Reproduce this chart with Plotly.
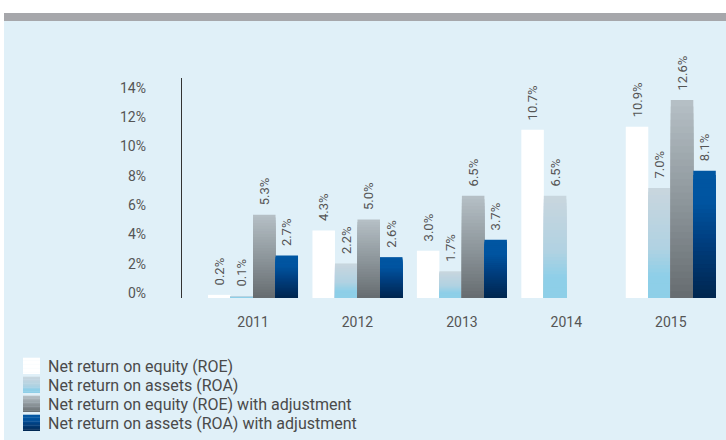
import plotly.graph_objects as go

years = ["2011", "2012", "2013", "2014", "2015"]
roe = [0.2, 4.3, 3.0, 10.7, 10.9]
roa = [0.1, 2.2, 1.7, 6.5, 7.0]
roe_adj = [5.3, 5.0, 6.5, None, 12.6]
roa_adj = [2.7, 2.6, 3.7, None, 8.1]
y_ticks = [0, 2, 4, 6, 8, 10, 12, 14]

names = ["Net return on equity (ROE)", "Net return on assets (ROA)",
         "Net return on equity (ROE) with adjustment",
         "Net return on assets (ROA) with adjustment"]

# gradient stops: (fraction from bottom, colour)
stops = [
    [(0, "#ffffff"), (1, "#ffffff")],
    [(0, "#8ecfe8"), (0.2, "#8ecfe8"), (0.45, "#b0d2e2"), (1, "#c9d6de")],
    [(0, "#666c70"), (0.5, "#8e979c"), (1, "#b6c0c6")],
    [(0, "#00264f"), (0.45, "#003f80"), (0.75, "#0054a0"), (1, "#0056a2")],
]


def hex2rgb(h):
    h = h.lstrip("#")
    return [int(h[i:i + 2], 16) for i in (0, 2, 4)]


def grad(st, t):
    for (t0, c0), (t1, c1) in zip(st, st[1:]):
        if t0 <= t <= t1:
            f = 0 if t1 == t0 else (t - t0) / (t1 - t0)
            a, b = hex2rgb(c0), hex2rgb(c1)
            return "rgb(%d,%d,%d)" % tuple(round(a[i] + (b[i] - a[i]) * f) for i in range(3))
    return st[-1][1]


fig = go.Figure()
N = 30
series = [roe, roa, roe_adj, roa_adj]
for s, vals in enumerate(series):
    nseg = 1 if s == 0 else N
    for k in range(nseg):
        frac = (nseg - k) / nseg
        t = (nseg - k - 0.5) / nseg
        ys = [None if v is None else v * frac for v in vals]
        kw = {}
        if k == 0:
            kw = dict(
                text=["" if v is None else "\u00a0\u00a0%.1f%%" % v for v in vals],
                textposition="outside", textangle=-90, constraintext="none",
                cliponaxis=False,
                textfont=dict(family="Roboto", size=13, color="#555555"),
            )
        fig.add_trace(go.Bar(
            x=years, y=ys, name=names[s], offsetgroup=str(s),
            marker=dict(color=grad(stops[s], t), line=dict(width=0)),
            showlegend=False, hoverinfo="skip", **kw))

fig.add_trace(go.Scatter(x=[None], y=[None], yaxis="y2", showlegend=False, hoverinfo="skip"))

L, R, T, B = 182, 3, 78, 142
W, H = 726, 440
pw, ph = W - L - R, H - T - B


def px_x(p):
    return (p - L) / pw


def px_y(p):
    return (H - B - p) / ph


shapes = [
    dict(type="rect", xref="paper", yref="paper", x0=px_x(0), x1=px_x(W + 5),
         y0=px_y(21), y1=px_y(-5), fillcolor="#ffffff", line=dict(width=0), layer="below"),
    dict(type="rect", xref="paper", yref="paper", x0=px_x(-5), x1=px_x(4),
         y0=px_y(H + 5), y1=px_y(-5), fillcolor="#ffffff", line=dict(width=0), layer="below"),
    dict(type="rect", xref="paper", yref="paper", x0=px_x(4), x1=px_x(W + 5),
         y0=px_y(21), y1=px_y(13), fillcolor="#a6a7ab", line=dict(width=0), layer="below"),
]
annotations = []
# custom legend with gradient swatches
NS = 12
for i, name in enumerate(names):
    cy = 366 + 19 * i
    top, bot = cy - 8, cy + 8
    for j in range(NS):
        t = (j + 0.5) / NS
        y_lo = bot - (bot - top) * j / NS
        y_hi = bot - (bot - top) * (j + 1) / NS - 0.3
        shapes.append(dict(type="rect", xref="paper", yref="paper",
                           x0=px_x(23), x1=px_x(40), y0=px_y(y_lo), y1=px_y(y_hi),
                           fillcolor=grad(stops[i], t), line=dict(width=0), layer="above"))
    annotations.append(dict(xref="paper", yref="paper", x=px_x(46), y=px_y(cy),
                            xanchor="left", yanchor="middle", showarrow=False, text=name,
                            font=dict(family="Roboto", size=16, color="#4a4a4a")))

fig.update_layout(
    width=W, height=H,
    margin=dict(l=L, r=R, t=T, b=B),
    paper_bgcolor="#e0f0f8", plot_bgcolor="#e0f0f8",
    barmode="group", bargap=0.138, bargroupgap=0,
    font=dict(family="Roboto", size=14, color="#555555"),
    showlegend=False,
    xaxis=dict(range=[-0.68, 4.5], showgrid=False, zeroline=False, showline=False,
               ticks="", ticklabelstandoff=14, tickfont=dict(size=14, color="#555555")),
    yaxis=dict(range=[0, 14], showgrid=False, zeroline=False, showline=True,
               linecolor="#333333", linewidth=1, showticklabels=False, ticks=""),
    yaxis2=dict(range=[-0.34, 14.68], overlaying="y", anchor="free", position=0, side="left",
                showgrid=False, zeroline=False, showline=False, ticks="",
                tickvals=y_ticks, ticktext=["%d%%" % v for v in y_ticks],
                ticklabelstandoff=36, tickfont=dict(size=14, color="#555555")),
    shapes=shapes,
    annotations=annotations,
)

fig.write_html("out.html", config={"displayModeBar": False},
               post_script="document.body.style.margin='0';document.body.style.padding='0';")
